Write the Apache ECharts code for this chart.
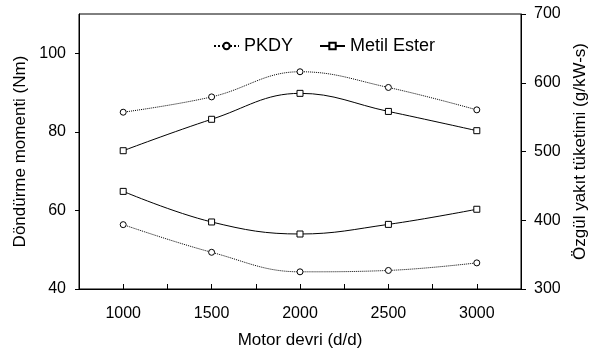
<!DOCTYPE html>
<html>
<head>
<meta charset="utf-8">
<script src="https://cdn.jsdelivr.net/npm/echarts@6/dist/echarts.min.js"></script>
<style>
  html, body { margin: 0; padding: 0; background: #fff; }
  #main { width: 593px; height: 352px; }
</style>
</head>
<body>
<div id="main"></div>
<script>
// motor devri (d/d)
var devir = [1000, 1500, 2000, 2500, 3000];
// döndürme momenti (Nm)
var momentPKDY = [85.0, 88.9, 95.3, 91.3, 85.6];
var momentMetil = [75.2, 83.2, 89.8, 85.2, 80.3];
// özgül yakıt tüketimi (g/kW-s)
var yakitPKDY = [393.6, 353.4, 325.0, 327.0, 338.0];
var yakitMetil = [442.0, 397.5, 380.0, 394.0, 416.0];

function pairs(ys) {
    return devir.map(function (x, i) { return [x, ys[i]]; });
}

var font = 'Liberation Sans, Arial, sans-serif';

var dotted = {
    type: 'line',
    name: 'PKDY',
    smooth: 0.4,
    symbol: 'circle',
    symbolSize: 6,
    itemStyle: { color: '#fff', borderColor: '#000', borderWidth: 1 },
    lineStyle: { color: '#000', width: 1, type: 'dotted' },
    animation: false
};
var solid = {
    type: 'line',
    name: 'Metil Ester',
    smooth: 0.4,
    symbol: 'rect',
    symbolSize: 6,
    itemStyle: { color: '#fff', borderColor: '#000', borderWidth: 1 },
    lineStyle: { color: '#000', width: 1, type: 'solid' },
    animation: false
};

var option = {
    backgroundColor: '#fff',
    textStyle: { fontFamily: font, color: '#000' },
    grid: {
        left: 79, right: 72, top: 14, bottom: 63,
        outerBoundsMode: 'none',
        show: true, borderColor: '#000', borderWidth: 1
    },
    legend: {
        left: 208, top: 32,
        itemWidth: 25, itemHeight: 8, itemGap: 26,
        textStyle: { fontSize: 18, fontFamily: font, color: '#000' },
        data: ['PKDY', 'Metil Ester']
    },
    xAxis: {
        type: 'value',
        min: 750, max: 3250, interval: 250,
        name: 'Motor devri (d/d)',
        nameLocation: 'middle',
        nameGap: 43,
        nameTextStyle: { fontSize: 17, color: '#000' },
        axisLine: { lineStyle: { color: '#000', width: 1 } },
        axisTick: { inside: true, length: 5, lineStyle: { color: '#000' } },
        axisLabel: {
            fontSize: 16, color: '#000', margin: 17,
            formatter: function (v) {
                return (v >= 1000 && v <= 3000 && v % 500 === 0) ? v : '';
            }
        },
        splitLine: { show: false }
    },
    yAxis: [{
        type: 'value',
        min: 40, max: 110, interval: 20,
        name: 'Döndürme momenti (Nm)',
        nameLocation: 'middle',
        nameGap: 46,
        nameTextStyle: { fontSize: 17, color: '#000' },
        axisLine: { show: true, lineStyle: { color: '#000', width: 1 } },
        axisTick: { show: true, length: 4, lineStyle: { color: '#000' } },
        axisLabel: { fontSize: 16, color: '#000', margin: 13, showMaxLabel: false },
        splitLine: { show: false }
    }, {
        type: 'value',
        min: 300, max: 700, interval: 100,
        name: 'Özgül yakıt tüketimi (g/kW-s)',
        nameLocation: 'middle',
        nameGap: 48,
        nameTextStyle: { fontSize: 17, color: '#000' },
        axisLine: { show: true, lineStyle: { color: '#000', width: 1 } },
        axisTick: { show: true, length: 5, lineStyle: { color: '#000' } },
        axisLabel: { fontSize: 16, color: '#000', margin: 13 },
        splitLine: { show: false }
    }],
    series: [
        Object.assign({}, dotted, { yAxisIndex: 0, data: pairs(momentPKDY) }),
        Object.assign({}, solid, { yAxisIndex: 0, data: pairs(momentMetil) }),
        Object.assign({}, dotted, { yAxisIndex: 1, data: pairs(yakitPKDY) }),
        Object.assign({}, solid, { yAxisIndex: 1, data: pairs(yakitMetil) })
    ]
};

echarts.init(document.getElementById('main')).setOption(option);
</script>
</body>
</html>
